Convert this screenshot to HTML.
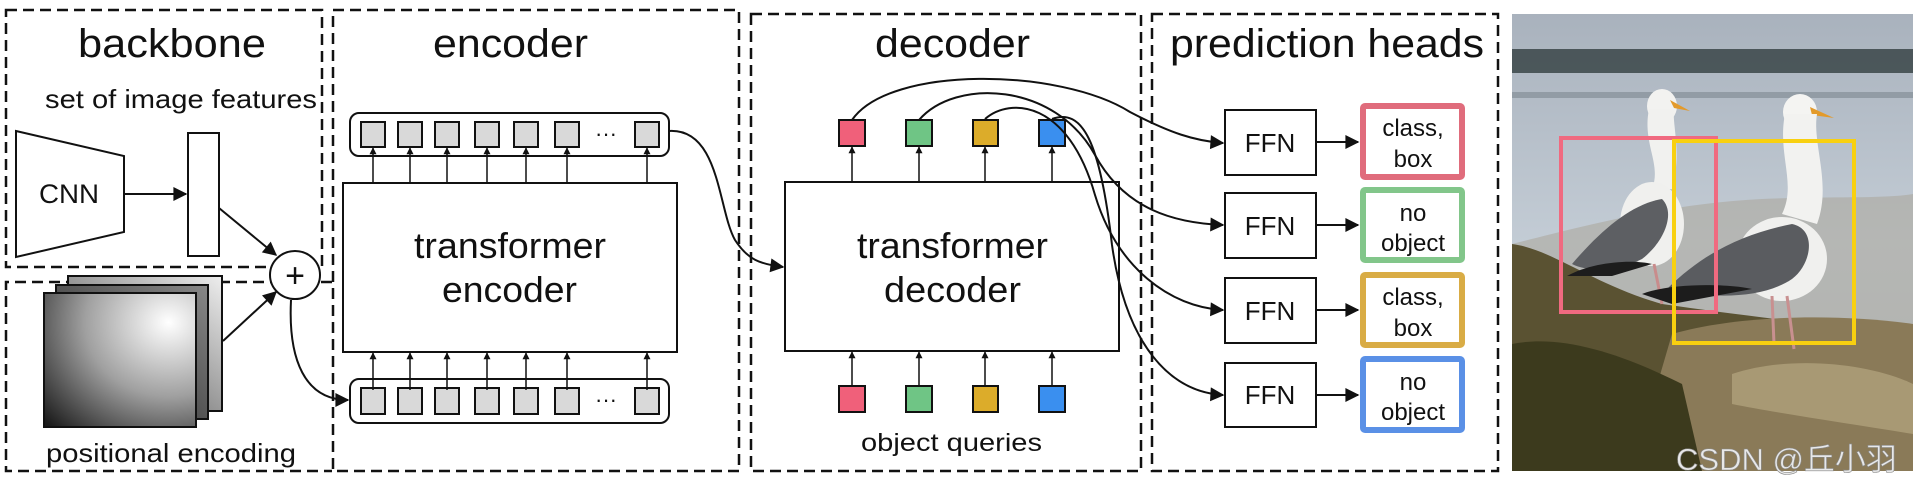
<!DOCTYPE html>
<html><head><meta charset="utf-8"><style>
html,body{margin:0;padding:0;background:#fff;width:1932px;height:494px;overflow:hidden}
svg{display:block}
text{font-family:"Liberation Sans",Arial,sans-serif;fill:#111}
</style></head><body>
<svg width="1932" height="494" viewBox="0 0 1932 494" xmlns="http://www.w3.org/2000/svg">
<defs>
<marker id="ah" viewBox="0 0 10 10" refX="9" refY="5" markerWidth="7" markerHeight="7" orient="auto" markerUnits="userSpaceOnUse"><path d="M0,0 L10,5 L0,10 z" fill="#111"/></marker>
<marker id="ab" viewBox="0 0 10 10" refX="9" refY="5" markerWidth="16" markerHeight="14" orient="auto" markerUnits="userSpaceOnUse"><path d="M0,0 L10,5 L0,10 z" fill="#111"/></marker>
<radialGradient id="pg" cx="0.82" cy="0.22" r="1.1"><stop offset="0" stop-color="#fff"/><stop offset="0.5" stop-color="#a0a0a0"/><stop offset="1" stop-color="#1a1a1a"/></radialGradient>
<linearGradient id="pg2" x1="0" y1="1" x2="1" y2="0"><stop offset="0" stop-color="#222"/><stop offset="1" stop-color="#888"/></linearGradient>
<linearGradient id="pg3" x1="0" y1="1" x2="1" y2="0"><stop offset="0" stop-color="#444"/><stop offset="1" stop-color="#eee"/></linearGradient>
<linearGradient id="sky" x1="0" y1="0" x2="0" y2="1"><stop offset="0" stop-color="#a9b2bd"/><stop offset="0.5" stop-color="#c3ccd5"/><stop offset="1" stop-color="#b8c0c8"/></linearGradient>
</defs>

<g fill="none" stroke="#111" stroke-width="2.5" stroke-dasharray="11 6">
<rect x="6" y="10" width="316" height="257"/>
<path d="M332,282 L6,282 L6,471 L332,471"/>
<rect x="333" y="10" width="406" height="461"/>
<rect x="751" y="14" width="390" height="457"/>
<rect x="1152" y="14" width="346" height="457"/>
</g>

<text x="78" y="57" font-size="40" textLength="188" lengthAdjust="spacingAndGlyphs">backbone</text>
<text x="433" y="57" font-size="40" textLength="155" lengthAdjust="spacingAndGlyphs">encoder</text>
<text x="875" y="57" font-size="40" textLength="155" lengthAdjust="spacingAndGlyphs">decoder</text>
<text x="1170" y="57" font-size="40" textLength="314" lengthAdjust="spacingAndGlyphs">prediction heads</text>
<text x="45" y="108" font-size="26" textLength="272" lengthAdjust="spacingAndGlyphs">set of image features</text>

<polygon points="16,131 124,156 124,232 16,257" fill="#fff" stroke="#111" stroke-width="2"/>
<text x="39" y="203" font-size="27" textLength="60" lengthAdjust="spacingAndGlyphs">CNN</text>
<line x1="124" y1="194" x2="186" y2="194" stroke="#111" stroke-width="2" marker-end="url(#ab)"/>
<rect x="188" y="133" width="31" height="123" fill="#fff" stroke="#111" stroke-width="2"/>
<line x1="219" y1="208" x2="276" y2="255" stroke="#111" stroke-width="2" marker-end="url(#ab)"/>

<rect x="68" y="276" width="154" height="135" fill="url(#pg3)" stroke="#111" stroke-width="2"/>
<rect x="56" y="285" width="152" height="134" fill="url(#pg2)" stroke="#111" stroke-width="2"/>
<rect x="44" y="293" width="152" height="134" fill="url(#pg)" stroke="#111" stroke-width="2"/>
<line x1="223" y1="341" x2="276" y2="292" stroke="#111" stroke-width="2" marker-end="url(#ab)"/>
<text x="46" y="462" font-size="26" textLength="250" lengthAdjust="spacingAndGlyphs">positional encoding</text>

<ellipse cx="295" cy="275" rx="25" ry="24" fill="#fff" stroke="#111" stroke-width="2"/>
<text x="295" y="287" font-size="34" text-anchor="middle">+</text>
<path d="M291,300 C288,360 305,400 348,400" fill="none" stroke="#111" stroke-width="2" marker-end="url(#ab)"/>

<rect x="350" y="113" width="319" height="43" rx="9" fill="#fff" stroke="#111" stroke-width="2"/>
<rect x="350" y="379" width="319" height="44" rx="9" fill="#fff" stroke="#111" stroke-width="2"/>
<g fill="#d9d9d9" stroke="#111" stroke-width="2">
<rect x="361" y="122" width="24" height="25"/><rect x="398" y="122" width="24" height="25"/><rect x="435" y="122" width="24" height="25"/><rect x="475" y="122" width="24" height="25"/><rect x="514" y="122" width="24" height="25"/><rect x="555" y="122" width="24" height="25"/><rect x="635" y="122" width="24" height="25"/>
<rect x="361" y="388" width="24" height="26"/><rect x="398" y="388" width="24" height="26"/><rect x="435" y="388" width="24" height="26"/><rect x="475" y="388" width="24" height="26"/><rect x="514" y="388" width="24" height="26"/><rect x="555" y="388" width="24" height="26"/><rect x="635" y="388" width="24" height="26"/>
</g>
<text x="595" y="141" font-size="22">···</text>
<text x="595" y="407" font-size="22">···</text>
<rect x="343" y="183" width="334" height="169" fill="#fff" stroke="#111" stroke-width="2"/>
<text x="414" y="258" font-size="36" textLength="192" lengthAdjust="spacingAndGlyphs">transformer</text>
<text x="442" y="302" font-size="36" textLength="135" lengthAdjust="spacingAndGlyphs">encoder</text>
<g stroke="#111" stroke-width="1.5" marker-end="url(#ah)">
<line x1="373" y1="183" x2="373" y2="148"/><line x1="410" y1="183" x2="410" y2="148"/><line x1="447" y1="183" x2="447" y2="148"/><line x1="487" y1="183" x2="487" y2="148"/><line x1="526" y1="183" x2="526" y2="148"/><line x1="567" y1="183" x2="567" y2="148"/><line x1="647" y1="183" x2="647" y2="148"/>
<line x1="373" y1="390" x2="373" y2="353"/><line x1="410" y1="390" x2="410" y2="353"/><line x1="447" y1="390" x2="447" y2="353"/><line x1="487" y1="390" x2="487" y2="353"/><line x1="526" y1="390" x2="526" y2="353"/><line x1="567" y1="390" x2="567" y2="353"/><line x1="647" y1="390" x2="647" y2="353"/>
</g>
<path d="M669,131 C720,128 718,210 735,240 C748,260 760,264 783,267" fill="none" stroke="#111" stroke-width="2" marker-end="url(#ab)"/>

<rect x="785" y="182" width="334" height="169" fill="#fff" stroke="#111" stroke-width="2"/>
<text x="857" y="258" font-size="36" textLength="191" lengthAdjust="spacingAndGlyphs">transformer</text>
<text x="884" y="302" font-size="36" textLength="137" lengthAdjust="spacingAndGlyphs">decoder</text>
<g stroke="#111" stroke-width="2">
<rect x="839" y="120" width="26" height="26" fill="#f0607a"/><rect x="906" y="120" width="26" height="26" fill="#6fc585"/><rect x="973" y="120" width="25" height="26" fill="#dcac2a"/><rect x="1039" y="120" width="26" height="26" fill="#3a8fef"/>
<rect x="839" y="386" width="26" height="26" fill="#f0607a"/><rect x="906" y="386" width="26" height="26" fill="#6fc585"/><rect x="973" y="386" width="25" height="26" fill="#dcac2a"/><rect x="1039" y="386" width="26" height="26" fill="#3a8fef"/>
</g>
<g stroke="#111" stroke-width="1.5" marker-end="url(#ah)">
<line x1="852" y1="182" x2="852" y2="147"/><line x1="919" y1="182" x2="919" y2="147"/><line x1="985" y1="182" x2="985" y2="147"/><line x1="1052" y1="182" x2="1052" y2="147"/>
<line x1="852" y1="386" x2="852" y2="352"/><line x1="919" y1="386" x2="919" y2="352"/><line x1="985" y1="386" x2="985" y2="352"/><line x1="1052" y1="386" x2="1052" y2="352"/>
</g>
<text x="861" y="451" font-size="25" textLength="181" lengthAdjust="spacingAndGlyphs">object queries</text>

<g fill="none" stroke="#111" stroke-width="2" marker-end="url(#ab)">
<path d="M852,120 C890,65 1060,68 1130,112 C1170,133 1195,141 1223,143"/>
<path d="M919,120 C955,78 1055,82 1095,155 C1125,210 1175,223 1223,225"/>
<path d="M985,119 C1010,97 1068,100 1095,195 C1117,268 1170,307 1223,310"/>
<path d="M1052,119 C1082,108 1100,140 1112,245 C1126,345 1170,392 1223,395"/>
</g>

<g fill="#fff" stroke="#111" stroke-width="2">
<rect x="1225" y="110" width="91" height="65"/><rect x="1225" y="193" width="91" height="65"/><rect x="1225" y="278" width="91" height="65"/><rect x="1225" y="363" width="91" height="64"/>
</g>
<g font-size="26" text-anchor="middle">
<text x="1270" y="152">FFN</text><text x="1270" y="235">FFN</text><text x="1270" y="320">FFN</text><text x="1270" y="404">FFN</text>
</g>
<g stroke="#111" stroke-width="2" marker-end="url(#ab)">
<line x1="1316" y1="142" x2="1358" y2="142"/><line x1="1316" y1="225" x2="1358" y2="225"/><line x1="1316" y1="310" x2="1358" y2="310"/><line x1="1316" y1="395" x2="1358" y2="395"/>
</g>
<g fill="#fff" stroke-width="6">
<rect x="1363" y="106" width="99" height="71" rx="2" stroke="#e06c7c"/>
<rect x="1363" y="190" width="99" height="70" rx="2" stroke="#82c68a"/>
<rect x="1363" y="275" width="99" height="70" rx="2" stroke="#d9ac45"/>
<rect x="1363" y="359" width="99" height="71" rx="2" stroke="#5a90e6"/>
</g>
<g font-size="24" text-anchor="middle">
<text x="1413" y="136">class,</text><text x="1413" y="167">box</text>
<text x="1413" y="221">no</text><text x="1413" y="251">object</text>
<text x="1413" y="305">class,</text><text x="1413" y="336">box</text>
<text x="1413" y="390">no</text><text x="1413" y="420">object</text>
</g>

<svg x="1512" y="14" width="401" height="457" viewBox="0 0 401 457">
<rect width="401" height="457" fill="url(#sky)"/>
<rect y="35" width="401" height="24" fill="#3a4548" opacity="0.85"/>
<rect y="78" width="401" height="6" fill="#7d8790" opacity="0.6"/>
<path d="M0,230 C60,215 150,190 250,185 C320,182 370,185 401,180 L401,330 L0,330z" fill="#a8a193" opacity="0.5"/>
<path d="M0,230 C40,235 80,270 150,290 C220,300 300,310 401,320 L401,457 L0,457z" fill="#5a5232"/>
<path d="M160,320 C230,300 330,300 401,310 L401,457 L120,457 z" fill="#8a7a58"/>
<path d="M0,330 C50,320 110,340 170,370 L190,457 L0,457z" fill="#3c3a1d"/>
<path d="M220,360 C280,340 360,350 401,370 L401,420 C340,410 270,400 220,390z" fill="#b5a680" opacity="0.7"/>
<!-- bird 1 -->
<ellipse cx="150" cy="92" rx="15" ry="17" fill="#f2f2f0"/>
<path d="M158,86 L178,97 L162,94z" fill="#e39a2a"/>
<path d="M137,95 C130,130 150,150 140,175 L160,175 C170,140 160,110 162,95z" fill="#f1f1ef"/>
<ellipse cx="140" cy="210" rx="32" ry="42" fill="#f0f0ee"/>
<path d="M60,250 C90,215 120,190 150,185 C165,200 150,230 130,245 C110,255 80,260 60,250z" fill="#5d5f63"/>
<path d="M55,262 C80,248 120,245 140,250 L100,262z" fill="#1d1d1d"/>
<line x1="142" y1="250" x2="150" y2="290" stroke="#c88c8c" stroke-width="3"/>
<!-- bird 2 -->
<ellipse cx="288" cy="98" rx="17" ry="18" fill="#f4f4f2"/>
<path d="M298,93 L322,104 L300,101z" fill="#e39a2a"/>
<path d="M273,100 C265,140 285,170 270,200 L305,210 C320,170 300,130 305,100z" fill="#f2f2f0"/>
<ellipse cx="270" cy="245" rx="45" ry="42" fill="#f0f0ee"/>
<path d="M155,275 C190,240 230,220 280,210 C305,215 300,250 280,265 C250,285 200,285 155,275z" fill="#5a5c60"/>
<path d="M130,280 C160,268 220,270 240,275 L160,290z" fill="#1c1c1c"/>
<line x1="260" y1="282" x2="262" y2="330" stroke="#c89090" stroke-width="3"/>
<line x1="275" y1="282" x2="282" y2="335" stroke="#c89090" stroke-width="3"/>
<rect x="49" y="124" width="155" height="174" fill="none" stroke="#f06a80" stroke-width="4"/>
<rect x="162" y="127" width="180" height="202" fill="none" stroke="#f8d010" stroke-width="4"/>
</svg>
<text x="1676" y="470" font-size="31" style="fill:#e8e8e8;stroke:#888;stroke-width:0.6" font-family="Liberation Sans, Noto Sans CJK SC, sans-serif">CSDN @丘小羽</text>
</svg>
</body></html>
